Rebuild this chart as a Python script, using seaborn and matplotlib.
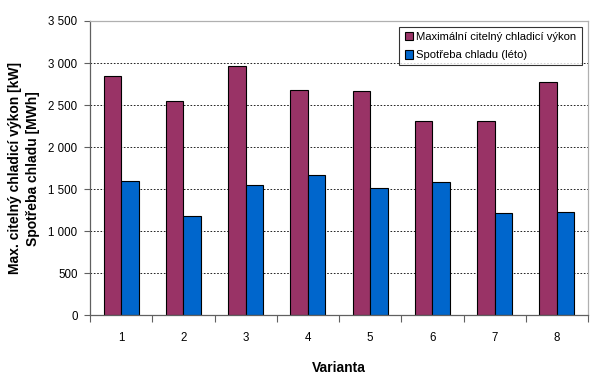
import matplotlib
matplotlib.use("Agg")
import matplotlib.pyplot as plt
import matplotlib.ticker as mticker
import seaborn as sns
import pandas as pd

varianty = ["1", "2", "3", "4", "5", "6", "7", "8"]
vykon = [2850, 2550, 2965, 2680, 2665, 2310, 2310, 2770]
spotreba = [1600, 1185, 1545, 1675, 1515, 1590, 1220, 1225]
series_names = ["Maximální citelný chladicí výkon", "Spotřeba chladu (léto)"]
colors = ["#993366", "#0066CC"]

df = pd.DataFrame({
    "Varianta": varianty * 2,
    "Hodnota": vykon + spotreba,
    "Serie": [series_names[0]] * len(varianty) + [series_names[1]] * len(varianty),
})

sns.set_style("white")
plt.rcParams["font.family"] = ["Liberation Sans", "DejaVu Sans"]
plt.rcParams["text.color"] = "black"
plt.rcParams["axes.labelcolor"] = "black"
plt.rcParams["xtick.color"] = "black"
plt.rcParams["ytick.color"] = "black"

fig = plt.figure(figsize=(6, 3.88), dpi=100)
ax = fig.add_axes([0.15, 0.187, 0.83, 0.759])

sns.barplot(data=df, x="Varianta", y="Hodnota", hue="Serie", palette=colors,
            width=0.56, edgecolor="black", linewidth=0.8, ax=ax, saturation=1)

ax.set_ylim(0, 3500)
ax.set_xlim(-0.5, 7.5)
ax.yaxis.set_major_locator(mticker.MultipleLocator(500))
ax.yaxis.set_major_formatter(mticker.FuncFormatter(lambda v, p: f"{int(v):,}".replace(",", " ")))
for y in range(500, 3500, 500):
    ax.axhline(y, color="black", linestyle=(0, (2, 2)), linewidth=0.6, zorder=0)

# x ticks at group boundaries, labels at centers
ax.set_xticks([i - 0.5 for i in range(len(varianty) + 1)])
ax.set_xticklabels([])
ax.set_xticks(range(len(varianty)), minor=True)
ax.set_xticklabels(varianty, minor=True)
ax.tick_params(axis="x", which="major", direction="out", length=5, width=0.8, color="#606060", bottom=True)
ax.tick_params(axis="x", which="minor", length=0, pad=12, labelsize=8.3, labelcolor="black")
ax.tick_params(axis="y", direction="out", length=4, width=0.8, color="#606060", left=True, pad=5,
               labelsize=8.3, labelcolor="black")

for s in ["left", "bottom"]:
    ax.spines[s].set_color("#606060")
    ax.spines[s].set_linewidth(0.9)
for s in ["top", "right"]:
    ax.spines[s].set_color("#B0B0B0")
    ax.spines[s].set_linewidth(0.9)

ax.set_xlabel("Varianta", fontsize=10, fontweight="bold", labelpad=12, color="black")
ax.set_ylabel("Max. citelný chladicí výkon [kW]\nSpotřeba chladu [MWh]", fontsize=10,
              fontweight="bold", labelpad=6, color="black", linespacing=1.4)

leg = ax.legend(loc="upper right", bbox_to_anchor=(0.987, 0.98), fontsize=8.1, frameon=True,
                fancybox=False, edgecolor="black", handlelength=0.75, handleheight=0.75,
                handletextpad=0.3, borderpad=0.45, labelspacing=0.75, borderaxespad=0)
leg.get_frame().set_linewidth(0.8)
for t in leg.get_texts():
    t.set_color("black")

fig.savefig("out.png", dpi=100)
